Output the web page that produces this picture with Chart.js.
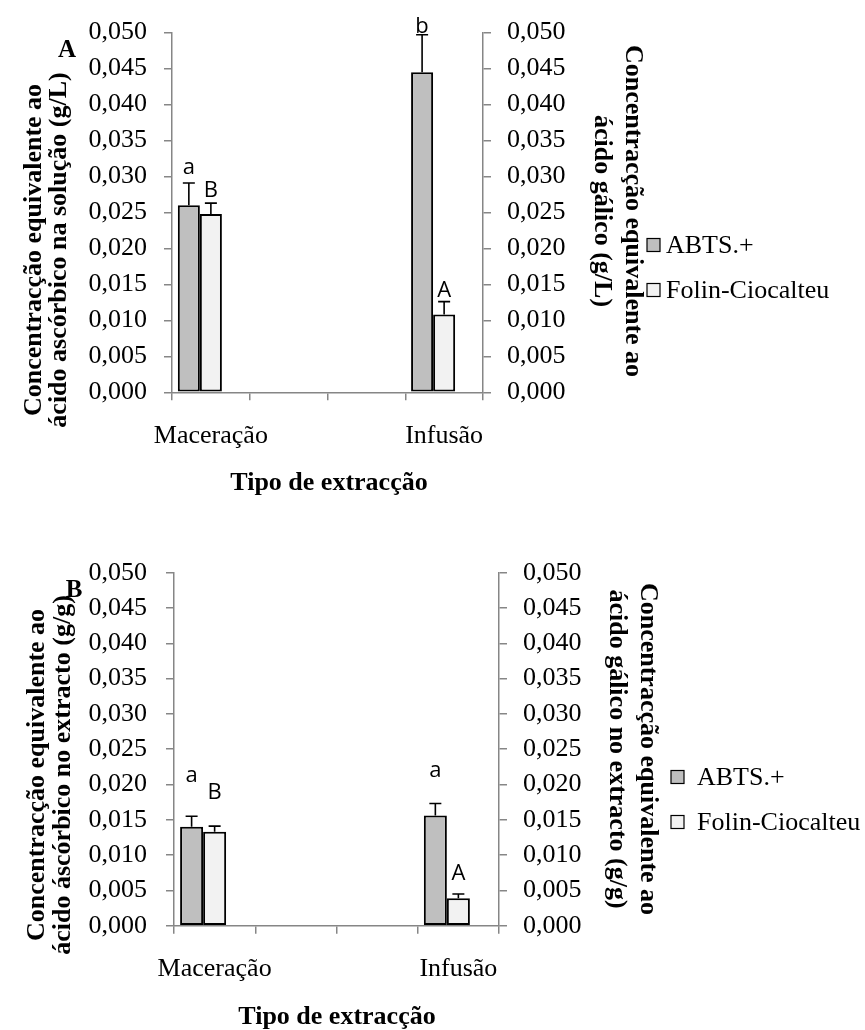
<!DOCTYPE html>
<html><head><meta charset="utf-8">
<script src="https://cdn.jsdelivr.net/npm/chart.js@4.4.1/dist/chart.umd.min.js"></script>
<style>
html,body{margin:0;padding:0;background:#fff;}
#wrap{position:relative;width:865px;height:1030px;overflow:hidden;}
canvas{position:absolute;left:0;}
#cA{top:0}
#cB{top:515px}
</style></head><body>
<div id="wrap">
<canvas id="cA" width="865" height="515"></canvas>
<canvas id="cB" width="865" height="515"></canvas>
</div>
<script>
// ---------- DATA ----------
const categories = ['Maceração', '', '', 'Infusão'];
const seriesNames = ['ABTS.+', 'Folin-Ciocalteu'];
const yMin = 0, yMax = 0.05, yStep = 0.005;

// Panel A (g/L)
const abtsA      = [0.0260, null, null, 0.0445];
const abtsErrA   = [0.0031, null, null, 0.0052];
const folinA     = [0.0248, null, null, 0.0108];
const folinErrA  = [0.0015, null, null, 0.0018];
const abtsLetA   = ['a', null, null, 'b'];
const folinLetA  = ['B', null, null, 'A'];
const abtsLetPosA  = [0.0304, null, null, 0.0500];
const folinLetPosA = [0.0272, null, null, 0.0132];

// Panel B (g/g)
const abtsB      = [0.0140, null, null, 0.0156];
const abtsErrB   = [0.0015, null, null, 0.0017];
const folinB     = [0.0133, null, null, 0.0039];
const folinErrB  = [0.0008, null, null, 0.0006];
const abtsLetB   = ['a', null, null, 'a'];
const folinLetB  = ['B', null, null, 'A'];
const abtsLetPosB  = [0.0204, null, null, 0.0211];
const folinLetPosB = [0.0180, null, null, 0.0065];

const titlesA = {
  left: ['Concentracção equivalente ao', 'ácido ascórbico na solução (g/L)'],
  right: ['Concentracção equivalente ao', 'ácido gálico (g/L)'],
  x: 'Tipo de extracção', panel: 'A'
};
const titlesB = {
  left: ['Concentracção equivalente ao', 'ácido áscórbico no extracto (g/g)'],
  right: ['Concentracção equivalente ao', 'ácido gálico no extracto (g/g)'],
  x: 'Tipo de extracção', panel: 'B'
};

// ---------- STYLE ----------
const SERIF = '"Liberation Serif", "Times New Roman", serif';
const SANS = '"Open Sans", "Liberation Sans", sans-serif';
const AXIS = '#868686';
const colABTS = '#BFBFBF';
const colFolin = '#F2F2F2';
Chart.defaults.font.family = SERIF;
Chart.defaults.color = '#000';

const errPlugin = {
  id: 'errbars',
  afterDatasetsDraw(chart) {
    const ctx = chart.ctx;
    ctx.save();
    chart.data.datasets.forEach((ds, i) => {
      if (!ds.errors) return;
      const meta = chart.getDatasetMeta(i);
      const ys = chart.scales[ds.yAxisID];
      ds.data.forEach((v, j) => {
        if (v == null) return;
        const bar = meta.data[j];
        const x = bar.x;
        const e = ds.errors[j];
        if (e != null) {
          const y0 = ys.getPixelForValue(v);
          const y1 = ys.getPixelForValue(v + e);
          ctx.strokeStyle = '#000';
          ctx.lineWidth = 1.6;
          ctx.beginPath();
          ctx.moveTo(x, y0); ctx.lineTo(x, y1);
          ctx.moveTo(x - 6, y1); ctx.lineTo(x + 6, y1);
          ctx.stroke();
        }
        if (ds.letters && ds.letters[j]) {
          ctx.fillStyle = '#000';
          ctx.font = '22px ' + SANS;
          ctx.textAlign = 'center';
          ctx.textBaseline = 'alphabetic';
          ctx.fillText(ds.letters[j], x, ys.getPixelForValue(ds.letterPos[j]));
        }
      });
    });
    ctx.restore();
  }
};

const decoPlugin = {
  id: 'deco',
  afterDraw(chart, args, o) {
    const ctx = chart.ctx;
    ctx.save();
    ctx.fillStyle = '#000';
    ctx.textAlign = 'center';
    ctx.textBaseline = 'middle';
    ctx.font = 'bold ' + o.titleSize + 'px ' + SERIF;
    o.t.left.forEach((line, i) => {
      ctx.save(); ctx.translate(o.leftX[i], o.leftY); ctx.rotate(-Math.PI / 2);
      ctx.fillText(line, 0, 0); ctx.restore();
    });
    o.t.right.forEach((line, i) => {
      ctx.save(); ctx.translate(o.rightX[i], o.rightY); ctx.rotate(Math.PI / 2);
      ctx.fillText(line, 0, 0); ctx.restore();
    });
    ctx.font = 'bold 26px ' + SERIF;
    ctx.fillText(o.t.x, o.xTitleX, o.xTitleY);
    ctx.font = 'bold 25px ' + SERIF;
    ctx.fillText(o.t.panel, o.panelX, o.panelY);
    // legend
    ctx.font = '26px ' + SERIF;
    ctx.textAlign = 'left';
    let k = 0;
    chart.data.datasets.forEach((ds) => {
      if (!ds.label) return;
      const y = o.legendY[k++];
      ctx.fillStyle = ds.backgroundColor;
      ctx.fillRect(o.legendBoxX, y - 6.5, 13, 13);
      ctx.strokeStyle = '#000';
      ctx.lineWidth = 1.2;
      ctx.strokeRect(o.legendBoxX, y - 6.5, 13, 13);
      ctx.fillStyle = '#000';
      ctx.fillText(ds.label, o.legendTextX, y + 1);
    });
    ctx.restore();
  }
};

function fmt(v) { return v.toFixed(3).replace('.', ','); }

function makeChart(id, d, L) {
  const H = 515;
  return new Chart(document.getElementById(id), {
    type: 'bar',
    data: {
      labels: categories,
      datasets: [
        { label: seriesNames[0], data: d.abts, errors: d.abtsErr, letters: d.abtsLet, letterPos: d.abtsLetPos,
          yAxisID: 'y', backgroundColor: colABTS, borderColor: '#000', borderWidth: 2, borderSkipped: false },
        { label: seriesNames[1], data: d.folin, errors: d.folinErr, letters: d.folinLet, letterPos: d.folinLetPos,
          yAxisID: 'y2', backgroundColor: colFolin, borderColor: '#000', borderWidth: 2, borderSkipped: false },
        { label: '', data: categories.map(() => null), yAxisID: 'y', backgroundColor: 'rgba(0,0,0,0)' }
      ]
    },
    options: {
      responsive: false,
      animation: false,
      events: [],
      layout: { padding: { top: L.top, left: 0, right: 0, bottom: 0 } },
      datasets: { bar: { categoryPercentage: 0.85, barPercentage: 1.0 } },
      plugins: {
        legend: { display: false },
        tooltip: { enabled: false },
        deco: L.deco
      },
      scales: {
        x: {
          type: 'category',
          offset: true,
          grid: { offset: true, drawOnChartArea: false, drawTicks: true, tickLength: 8, color: AXIS, lineWidth: 1.5 },
          border: { color: AXIS, width: 1.5 },
          ticks: { autoSkip: false, maxRotation: 0, font: { size: 26, family: SERIF }, color: '#000', padding: L.xPad },
          afterFit(s) { s.height = H - L.bottom; }
        },
        y: {
          position: 'left', min: yMin, max: yMax,
          grid: { drawOnChartArea: false, drawTicks: true, tickLength: 8, color: AXIS, lineWidth: 1.5 },
          border: { color: AXIS, width: 1.5 },
          ticks: { stepSize: yStep, callback: fmt, font: { size: 26, family: SERIF }, color: '#000', padding: L.yPad },
          afterFit(s) { s.width = L.left; }
        },
        y2: {
          position: 'right', min: yMin, max: yMax,
          grid: { drawOnChartArea: false, drawTicks: true, tickLength: 8, color: AXIS, lineWidth: 1.5 },
          border: { color: AXIS, width: 1.5 },
          ticks: { stepSize: yStep, callback: fmt, font: { size: 26, family: SERIF }, color: '#000', padding: L.y2Pad },
          afterFit(s) { s.width = 865 - L.right; }
        }
      }
    },
    plugins: [errPlugin, decoPlugin]
  });
}

makeChart('cA',
  { abts: abtsA, abtsErr: abtsErrA, abtsLet: abtsLetA, abtsLetPos: abtsLetPosA,
    folin: folinA, folinErr: folinErrA, folinLet: folinLetA, folinLetPos: folinLetPosA },
  { top: 30, bottom: 392.3, left: 172, right: 483, xPad: 20, yPad: 17, y2Pad: 16,
    deco: { t: titlesA, titleSize: 26, leftX: [34, 59], leftY: 250, rightX: [633, 602], rightY: 211,
            xTitleX: 329, xTitleY: 483, panelX: 67, panelY: 51,
            legendBoxX: 647, legendTextX: 666, legendY: [245, 290] } });

makeChart('cB',
  { abts: abtsB, abtsErr: abtsErrB, abtsLet: abtsLetB, abtsLetPos: abtsLetPosB,
    folin: folinB, folinErr: folinErrB, folinLet: folinLetB, folinLetPos: folinLetPosB },
  { top: 57.7, bottom: 410.7, left: 174, right: 499, xPad: 20, yPad: 19, y2Pad: 16,
    deco: { t: titlesB, titleSize: 26, leftX: [37, 63], leftY: 260, rightX: [648, 617], rightY: 234,
            xTitleX: 337, xTitleY: 502, panelX: 74, panelY: 76,
            legendBoxX: 671, legendTextX: 697, legendY: [262, 307] } });
</script>
</body></html>
